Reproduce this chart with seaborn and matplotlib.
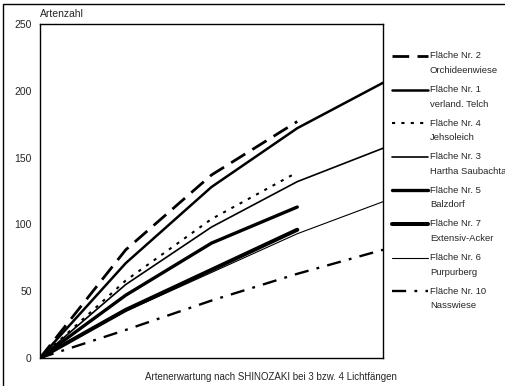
import pandas as pd
import matplotlib.pyplot as plt
import seaborn as sns
from matplotlib.patches import Rectangle
from matplotlib.lines import Line2D
from matplotlib import font_manager

# Lichtfänge (0..4) und Artenerwartung je Fläche
x_faenge = [0, 1, 2, 3, 4]
flaeche_2 = [0, 81, 137, 177]
flaeche_1 = [0, 71, 128, 172, 206]
flaeche_4 = [0, 58, 104, 139]
flaeche_3 = [0, 55, 98, 132, 157]
flaeche_5 = [0, 47, 86, 113]
flaeche_7 = [0, 36, 66, 96]
flaeche_6 = [0, 35, 64, 93, 117]
flaeche_10 = [0, 21, 43, 63, 81]

labels = ['Fläche Nr. 2\nOrchideenwiese', 'Fläche Nr. 1\nverland. Telch',
          'Fläche Nr. 4\nJehsoleich', 'Fläche Nr. 3\nHartha Saubachta',
          'Fläche Nr. 5\nBalzdorf', 'Fläche Nr. 7\nExtensiv-Acker',
          'Fläche Nr. 6\nPurpurberg', 'Fläche Nr. 10\nNasswiese']
reihen = [flaeche_2, flaeche_1, flaeche_4, flaeche_3,
          flaeche_5, flaeche_7, flaeche_6, flaeche_10]

stile = [
    dict(lw=2.0, dashes=(6, 3)),
    dict(lw=1.8, dashes=()),
    dict(lw=1.5, dashes=(1.5, 3)),
    dict(lw=1.2, dashes=()),
    dict(lw=2.4, dashes=()),
    dict(lw=2.9, dashes=()),
    dict(lw=0.8, dashes=()),
    dict(lw=1.7, dashes=(6, 3.5, 1.2, 3.5)),
]

sns.set_style('white')
namen = {f.name for f in font_manager.fontManager.ttflist}
if 'Liberation Sans Narrow' in namen:
    plt.rcParams['font.family'] = ['Liberation Sans Narrow', 'DejaVu Sans']
    fs, fs_leg, fs_x = 9, 7.6, 8.5
else:
    plt.rcParams['font.family'] = ['Liberation Sans', 'DejaVu Sans']
    fs, fs_leg, fs_x = 7.5, 6.8, 7

W, H = 506, 386
fig = plt.figure(figsize=(W / 100, H / 100), dpi=100)
ax = fig.add_axes([40 / W, 28 / H, 343 / W, 334 / H])

for werte, st in zip(reihen, stile):
    df = pd.DataFrame({'x': x_faenge[:len(werte)], 'y': werte})
    line = sns.lineplot(data=df, x='x', y='y', ax=ax, color='black',
                        lw=st['lw']).get_lines()[-1]
    if st['dashes']:
        line.set_dashes(st['dashes'])

ax.set_xlim(0, 4)
ax.set_ylim(0, 250)
ax.set_xticks([])
ax.set_yticks([0, 50, 100, 150, 200, 250])
ax.tick_params(axis='y', length=0, pad=6, labelsize=fs)
ax.set_xlabel('')
ax.set_ylabel('')
for s in ax.spines.values():
    s.set_color('black')
    s.set_linewidth(1.0)

# Legende rechts: Linie auf Höhe der ersten Zeile
for i, (lab, st) in enumerate(zip(labels, stile)):
    y0 = 1 - (56 + 33.6 * i) / H
    ln = Line2D([392 / W, 428 / W], [y0, y0], transform=fig.transFigure,
                color='black', lw=st['lw'])
    if st['dashes']:
        ln.set_dashes(st['dashes'])
    fig.add_artist(ln)
    erste, zweite = lab.split('\n')
    fig.text(430 / W, y0, erste, fontsize=fs_leg, va='center', ha='left')
    fig.text(430 / W, y0 - 14.5 / H, zweite, fontsize=fs_leg, va='center', ha='left')

fig.text(40 / W, 1 - 14 / H, 'Artenzahl', fontsize=fs, va='center', ha='left')
fig.text(271 / W, 1 - 377 / H,
         'Artenerwartung nach SHINOZAKI bei 3 bzw. 4 Lichtfängen',
         fontsize=fs_x, va='center', ha='center')

fig.add_artist(Rectangle((3 / W, -0.1), 1.2, 1.1 - 4 / H,
                         transform=fig.transFigure, fill=False,
                         lw=1.0, edgecolor='black'))

fig.savefig('out.png', dpi=100)
